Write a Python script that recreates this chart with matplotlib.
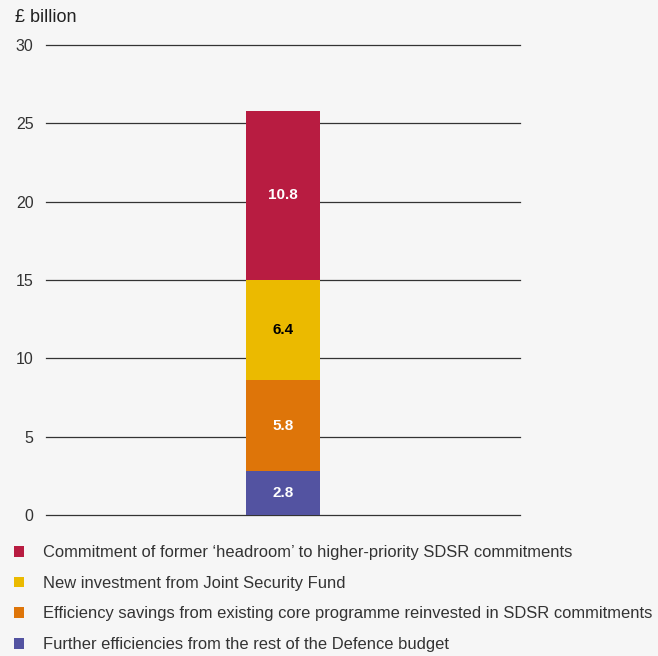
import matplotlib.pyplot as plt
from matplotlib.patches import Patch

# Data (bottom to top)
labels = [
    "Further efficiencies from the rest of the Defence budget",
    "Efficiency savings from existing core programme reinvested in SDSR commitments",
    "New investment from Joint Security Fund",
    "Commitment of former \u2018headroom\u2019 to higher-priority SDSR commitments",
]
values = [2.8, 5.8, 6.4, 10.8]
colors = ["#5353a1", "#de7509", "#ebba00", "#b81c41"]
text_colors = ["white", "white", "black", "white"]
yticks = [0, 5, 10, 15, 20, 25, 30]

plt.rcParams['font.family'] = ['Liberation Sans', 'DejaVu Sans']
bg = "#f6f6f6"

fig = plt.figure(figsize=(6.58, 6.56), dpi=100, facecolor=bg)
ax = fig.add_axes([46 / 658, 141 / 656, 474 / 658, 470 / 656], facecolor=bg)

for y in yticks:
    ax.axhline(y, color="#333333", lw=0.9, zorder=1, clip_on=False)

bottom = 0
for v, c, tc in zip(values, colors, text_colors):
    ax.bar(0, v, bottom=bottom, width=0.156, color=c, zorder=2)
    ax.text(0, bottom + v / 2, f"{v}", ha="center", va="center",
            color=tc, fontsize=11, fontweight="bold", zorder=3)
    bottom += v

ax.set_xlim(-0.5, 0.5)
ax.set_ylim(0, 30)
ax.set_xticks([])
ax.set_yticks(yticks)
ax.set_yticklabels([str(t) for t in yticks], fontsize=11.5, color="#333333")
ax.tick_params(axis="y", length=0, pad=9)
for s in ax.spines.values():
    s.set_visible(False)

fig.text(15 / 658, 1 - 17 / 656, "\u00a3 billion", fontsize=13, va="center", ha="left",
         color="#222222")

handles = [Patch(facecolor=c, label=l) for c, l in zip(colors, labels)]
handles = handles[::-1]
leg = fig.legend(handles=handles, loc="upper left", bbox_to_anchor=(14 / 658, 1 - 545 / 656),
                 frameon=False, fontsize=11.9, handlelength=0.62, handleheight=0.62,
                 handletextpad=1.15, labelspacing=0.95, borderaxespad=0, borderpad=0)
for t in leg.get_texts():
    t.set_color("#333333")

fig.savefig("out.png", dpi=100, facecolor=bg)
